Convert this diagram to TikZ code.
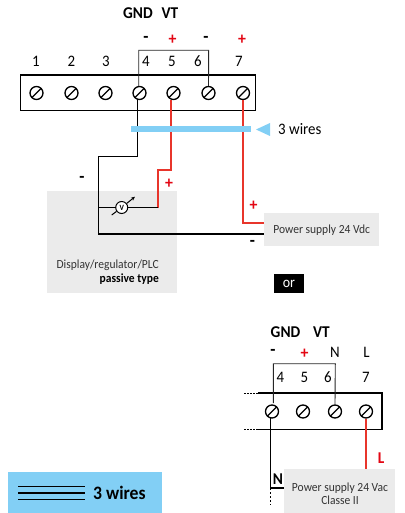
\documentclass[tikz,border=0pt]{standalone}
\usepackage{fontspec}
\usetikzlibrary{arrows.meta}
\setmainfont[FakeStretch=0.93]{Carlito}
\definecolor{boxgray}{HTML}{EBEBEB}
\definecolor{wirered}{HTML}{E8352B}
\definecolor{signred}{HTML}{E30613}
\definecolor{legendblue}{HTML}{82CFF5}
\newcommand{\fs}[1]{\fontsize{#1}{#1}\selectfont}
\tikzset{
  screw/.style={circle,draw=black,line width=1.3pt,minimum size=13pt,inner sep=0pt,fill=white,
    path picture={\draw[line width=1.3pt] (path picture bounding box.south west) -- (path picture bounding box.north east);}},
  termbox/.style={line width=1.4pt},
  bridge/.style={line width=0.9pt,draw=black!85},
  blk/.style={line width=1.3pt,draw=black},
  red/.style={line width=1.3pt,draw=wirered},
  lbl/.style={inner sep=0pt,font=\fs{16}},
  big/.style={inner sep=0pt,font=\fs{16.5}\bfseries},
  sgn/.style={inner sep=0pt,font=\fs{18}\bfseries,text=black},
  plus/.style={inner sep=0pt,font=\fs{17}\bfseries,text=signred},
  small/.style={inner sep=0pt,font=\fs{12.4},text=black!80},
  graybox/.style={fill=boxgray,draw=none,inner sep=0pt,anchor=north west},
}
\begin{document}
\begin{tikzpicture}[x=1pt,y=-1pt]
\useasboundingbox (0,0) rectangle (404,513);
% gray panels
\node[graybox,minimum width=130pt,minimum height=102pt] (display) at (47,191) {};
\node[graybox,minimum width=115pt,minimum height=33pt] (psdc) at (264,213) {};
% top terminal
\draw[termbox] (20.5,75) rectangle (255.5,110.5);
\node[screw] (s1) at (36.5,93) {};
\node[screw] (s2) at (71.5,93) {};
\node[screw] (s3) at (105.5,93) {};
\node[screw] (s4) at (139.5,93) {};
\node[screw] (s5) at (173.5,93) {};
\node[screw] (s6) at (208.5,93) {};
\node[screw] (s7) at (243,93) {};
\node[lbl] at (36,61) {1};
\node[lbl] at (71.5,61) {2};
\node[lbl] at (106,61) {3};
\node[lbl] at (146,61) {4};
\node[lbl] at (172,61) {5};
\node[lbl] at (198,61) {6};
\node[lbl] at (239,61) {7};
\node[big] at (138,13) {GND};
\node[big] at (170,13) {VT};
\node[sgn] at (146,39) {-};
\node[plus] at (172.5,40) {+};
\node[sgn] at (206,39) {-};
\node[plus] at (242,40) {+};
\draw[bridge] (s4.north) ++(-0.8,0) |- (208.7,50.3) -- (s6.north);
% wires
\coordinate (j1) at (137.5,156.5);
\coordinate (j2) at (98.5,156.5);
\coordinate (j3) at (98.5,234);
\coordinate (j4) at (98.5,207.5);
\coordinate (r1) at (171,170);
\coordinate (r2) at (158,170);
\coordinate (r3) at (158,207.5);
\coordinate (r4) at (243,223);
\draw[blk] (137.5,99) -- (j1) -- (j2) -- (j3) -- (psdc.west |- j3);
\draw[red] (171,100) -- (r1) -- (r2) -- (r3);
\draw[red] (s7.south) -- (r4) -- (psdc.west |- r4);
\node[circle,draw=black,line width=1pt,fill=white,minimum size=12pt,inner sep=0pt,font=\fs{8}\bfseries] (vm) at (121.7,207.5) {V};
\draw[blk] (j4) -- (vm);
\draw[blk] (vm) -- (r3);
\draw[line width=1pt] (111.7,215) -- (vm);
\draw[line width=1pt,-{Stealth[length=4pt,width=3.5pt]}] (vm) -- (135,196.7);
% blue bar
\fill[legendblue] (131,126) rectangle (251,132);
\fill[legendblue] (256,129.5) -- (270,123) -- (270,136) -- cycle;
\node[lbl,anchor=west] at (278,129.5) {3 wires};
\node[sgn] at (82,179) {-};
\node[plus] at (169,184) {+};
\node[plus] at (253.5,206) {+};
\node[sgn] at (252.5,243) {-};
\node[small,anchor=east] at (159,265) {Display/regulator/PLC};
\node[small,anchor=east,font=\fs{12.4}\bfseries,text=black] at (159,279) {passive type};
\node[small] at (psdc.center) {Power supply 24 Vdc};
\node[fill=black,text=white,minimum width=30pt,minimum height=19pt,inner sep=0pt,font=\fs{15}] (or) at (289,283.5) {or};
% lower terminal
\node[big] at (285.5,332) {GND};
\node[big] at (321.5,332) {VT};
\node[sgn] at (273,352) {-};
\node[plus] at (304.5,354) {+};
\node[lbl] at (335,352) {N};
\node[lbl] at (366.5,352) {L};
\node[lbl] at (280.5,377.5) {4};
\node[lbl] at (304.5,377.5) {5};
\node[lbl] at (328,377.5) {6};
\node[lbl] at (366,377.5) {7};
\draw[termbox] (258,393) -- (382,393) -- (382,429.5) -- (258,429.5);
\draw[line width=0.7pt,dash pattern=on 1.5pt off 1.5pt] (244,393) -- (258,393);
\draw[line width=0.7pt,dash pattern=on 1.5pt off 1.5pt] (244,429.5) -- (258,429.5);
\node[screw] (t4) at (272,411.5) {};
\node[screw] (t5) at (303,411.5) {};
\node[screw] (t6) at (335,411.5) {};
\node[screw] (t7) at (366,411.5) {};
\draw[bridge] (273.3,403) |- (335.3,363.7) -- (t6.north);
% power ac
\node[graybox,minimum width=111pt,minimum height=44pt] (psac) at (284,469) {};
\coordinate (n1) at (270.5,488);
\coordinate (n2) at (270.5,505);
\draw[blk] (270.5,418) -- (n1) -- (psac.west |- n1);
\draw[line width=0.8pt,dash pattern=on 2pt off 2pt] (n1) -- (n2);
\draw[red] (t7.south) -- (psac.north -| t7);
\node[big,text=signred] at (381,458) {L};
\node[big] at (278,479) {N};
\node[small,align=center] at (340,494) {Power supply 24 Vac\\[1pt]Classe II};
% legend
\fill[legendblue] (8,472) rectangle (162,513);
\draw[line width=1.4pt] (18,486.7) -- (85,486.7);
\draw[line width=1.4pt] (18,493) -- (85,493);
\draw[line width=1.4pt] (18,499.3) -- (85,499.3);
\node[big,anchor=west,font=\fs{19}\bfseries] at (93,493) {3 wires};
\end{tikzpicture}
\end{document}
